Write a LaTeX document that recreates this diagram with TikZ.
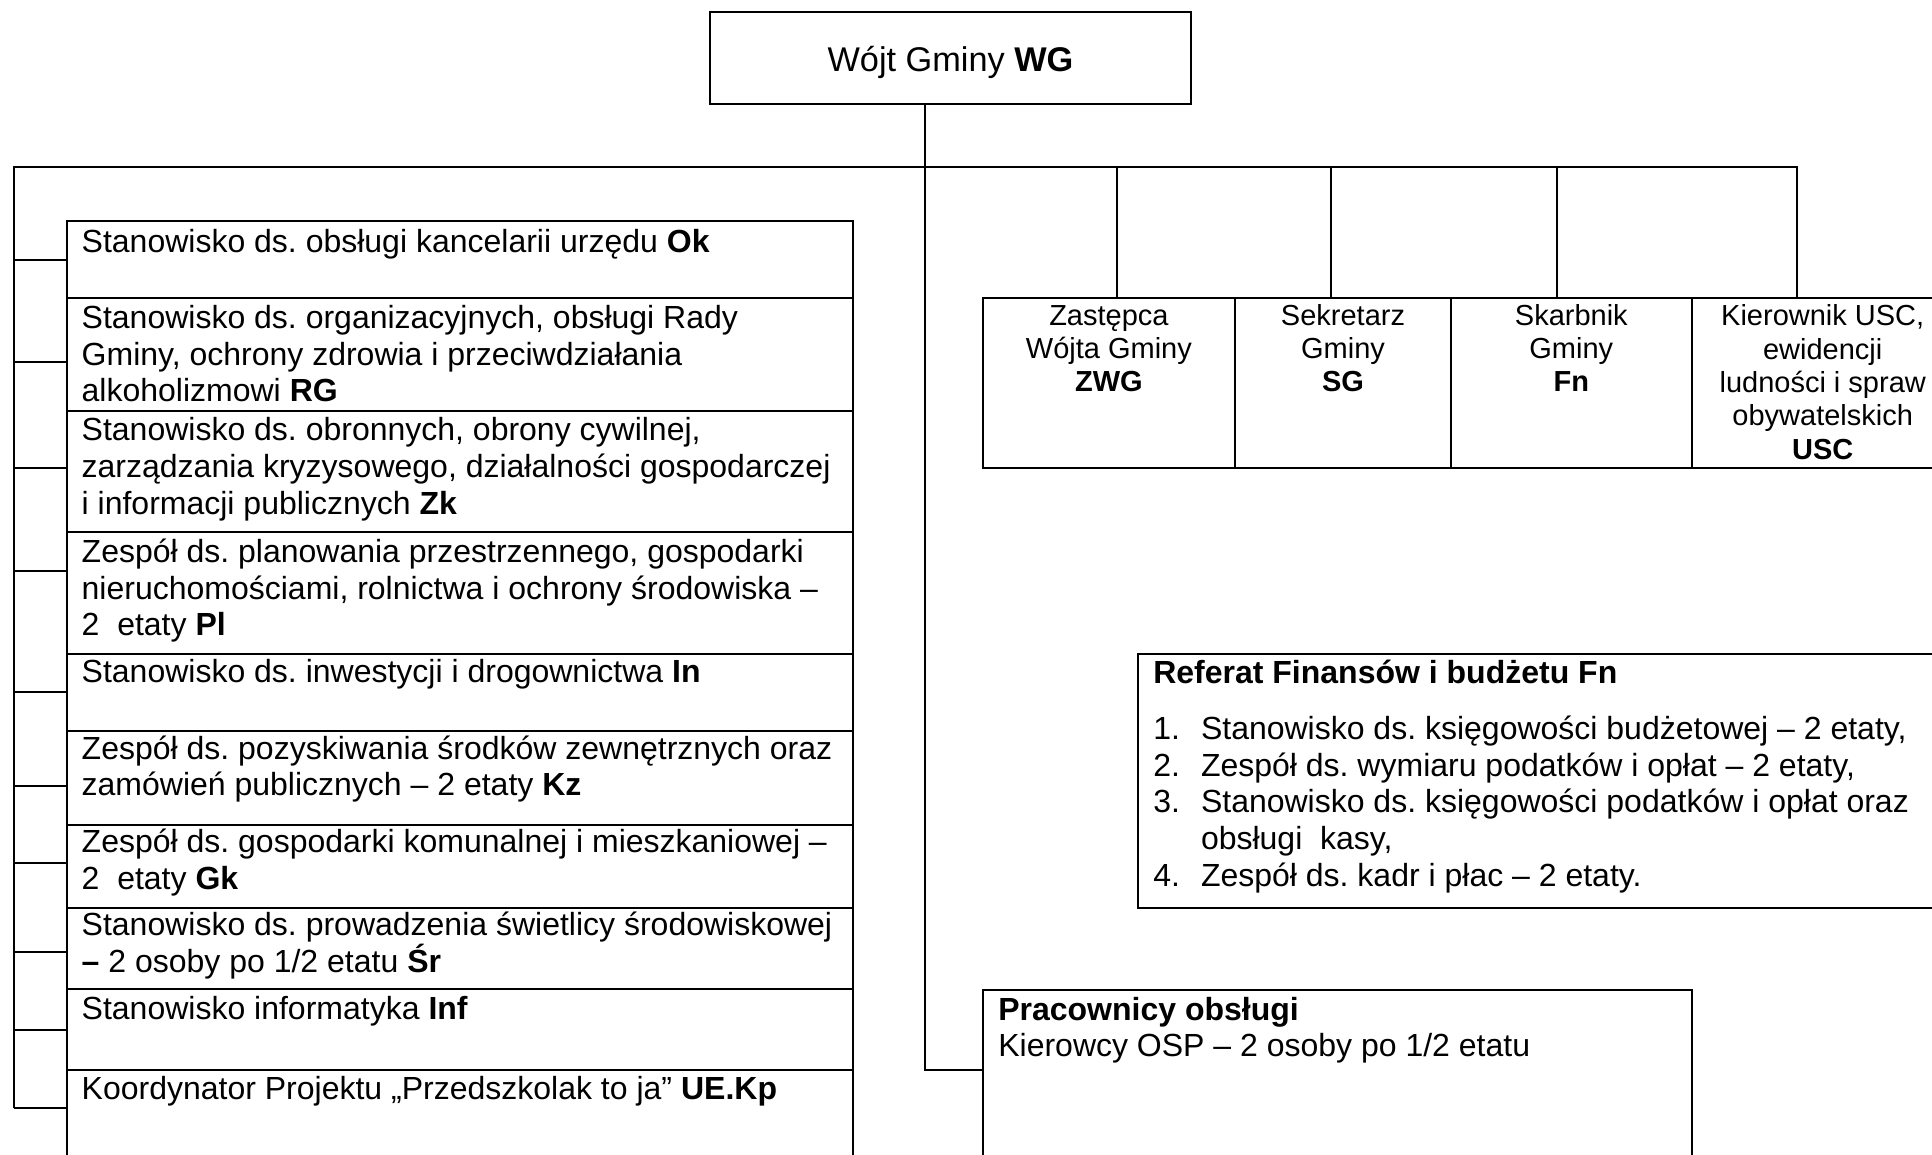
\documentclass[tikz,border=0pt]{standalone}
\usepackage{fontspec}
\setmainfont{Liberation Sans}
\frenchspacing
\newcommand{\topstrut}[1]{\rule{0pt}{#1pt}}
\tikzset{
  box/.style={draw, line width=2pt, inner sep=0pt, outer sep=0pt, anchor=north west, rectangle},
  conn/.style={draw, line width=2pt},
  ltext/.style={anchor=north west, inner sep=0pt, outer sep=0pt, align=left, font=\fontsize{32}{36.7}\selectfont\frenchspacing},
  ctext/.style={anchor=north, inner sep=0pt, outer sep=0pt, align=center, font=\fontsize{29}{33.4}\selectfont\frenchspacing},
}
\begin{document}
\begin{tikzpicture}[x=1pt,y=-1pt]
\useasboundingbox (0,0) rectangle (1932,1154);
\clip (0,0) rectangle (1932,1154);

% top box
\node[box, minimum width=481pt, minimum height=92pt] (wojt) at (710,12) {};
\node[anchor=base, inner sep=0pt, font=\fontsize{34.3}{39}\selectfont] (wojtT) at (950.5,71.7) {Wójt Gminy \textbf{WG}};

% left column boxes
\node[box, minimum width=786.6pt, minimum height=77pt] (b1) at (66.7,220.7) {};
\node[box, minimum width=786.6pt, minimum height=113pt] (b2) at (66.7,297.7) {};
\node[box, minimum width=786.6pt, minimum height=121.6pt] (b3) at (66.7,410.7) {};
\node[box, minimum width=786.6pt, minimum height=121.7pt] (b4) at (66.7,532.3) {};
\node[box, minimum width=786.6pt, minimum height=76.7pt] (b5) at (66.7,654) {};
\node[box, minimum width=786.6pt, minimum height=94.3pt] (b6) at (66.7,730.7) {};
\node[box, minimum width=786.6pt, minimum height=83.3pt] (b7) at (66.7,825) {};
\node[box, minimum width=786.6pt, minimum height=80.7pt] (b8) at (66.7,908.3) {};
\node[box, minimum width=786.6pt, minimum height=81pt] (b9) at (66.7,989) {};
\node[box, minimum width=786.6pt, minimum height=100pt] (b10) at (66.7,1070) {};

\node[ltext] (t1) at (81.7,226.3) {\topstrut{26}Stanowisko ds. obsługi kancelarii urzędu \textbf{Ok}};
\node[ltext] (t2) at (81.7,302.3) {\topstrut{26}Stanowisko ds. organizacyjnych, obsługi Rady\\Gminy, ochrony zdrowia i przeciwdziałania\\alkoholizmowi \textbf{RG}};
\node[ltext] (t3) at (81.7,414.7) {\topstrut{26}Stanowisko ds. obronnych, obrony cywilnej,\\zarządzania kryzysowego, działalności gospodarczej\\i informacji publicznych \textbf{Zk}};
\node[ltext] (t4) at (81.7,536.3) {\topstrut{26}Zespół ds. planowania przestrzennego, gospodarki\\nieruchomościami, rolnictwa i ochrony środowiska –\\2\ \ etaty \textbf{Pl}};
\node[ltext] (t5) at (81.7,656) {\topstrut{26}Stanowisko ds. inwestycji i drogownictwa \textbf{In}};
\node[ltext] (t6) at (81.7,733) {\topstrut{26}Zespół ds. pozyskiwania środków zewnętrznych oraz\\zamówień publicznych – 2 etaty \textbf{Kz}};
\node[ltext] (t7) at (81.7,826.3) {\topstrut{26}Zespół ds. gospodarki komunalnej i mieszkaniowej –\\2\ \ etaty \textbf{Gk}};
\node[ltext] (t8) at (81.7,909.7) {\topstrut{26}Stanowisko ds. prowadzenia świetlicy środowiskowej\\\textbf{–} 2 osoby po 1/2 etatu \textbf{Śr}};
\node[ltext] (t9) at (81.7,993.7) {\topstrut{26}Stanowisko informatyka \textbf{Inf}};
\node[ltext] (t10) at (81.7,1073) {\topstrut{26}Koordynator Projektu „Przedszkolak to ja” \textbf{UE.Kp}};

% right boxes
\node[box, minimum width=252.3pt, minimum height=170pt] (r1) at (982.7,297.7) {};
\node[box, minimum width=216pt, minimum height=170pt] (r2) at (1235,297.7) {};
\node[box, minimum width=241pt, minimum height=170pt] (r3) at (1451,297.7) {};
\node[box, minimum width=261.3pt, minimum height=170pt] (r4) at (1692,297.7) {};

\node[ctext] (rt1) at (1108.9,301) {\topstrut{24}Zastępca\\Wójta Gminy\\\textbf{ZWG}};
\node[ctext] (rt2) at (1343,301) {\topstrut{24}Sekretarz\\Gminy\\\textbf{SG}};
\node[ctext] (rt3) at (1571.3,301) {\topstrut{24}Skarbnik\\Gminy\\\textbf{Fn}};
\node[ctext] (rt4) at (1822.7,301.7) {\topstrut{24}Kierownik USC,\\ewidencji\\ludności i spraw\\obywatelskich\\\textbf{USC}};

% Referat box
\node[box, minimum width=830pt, minimum height=254.3pt] (ref) at (1137.7,653.7) {};
\node[ltext] (refT) at (1153.3,657.3) {\topstrut{26}\textbf{Referat Finansów i budżetu Fn}};
\node[ltext] (n1) at (1153.3,713.3) {\topstrut{26}1.};
\node[ltext] (n2) at (1153.3,750) {\topstrut{26}2.};
\node[ltext] (n3) at (1153.3,786.7) {\topstrut{26}3.};
\node[ltext] (n4) at (1153.3,860) {\topstrut{26}4.};
\node[ltext] (f1) at (1201,713.3) {\topstrut{26}Stanowisko ds. księgowości budżetowej – 2 etaty,};
\node[ltext] (f2) at (1201,750) {\topstrut{26}Zespół ds. wymiaru podatków i opłat – 2 etaty,};
\node[ltext] (f3) at (1201,786.7) {\topstrut{26}Stanowisko ds. księgowości podatków i opłat oraz\\obsługi\ \ kasy,};
\node[ltext] (f4) at (1201,860) {\topstrut{26}Zespół ds. kadr i płac – 2 etaty.};

% Pracownicy box
\node[box, minimum width=709.3pt, minimum height=190pt] (prac) at (982.7,989.7) {};
\node[ltext, font=\fontsize{32}{35.6}\selectfont\frenchspacing] (pracT) at (998.3,994.7) {\topstrut{26}\textbf{Pracownicy obsługi}\\Kierowcy OSP – 2 osoby po 1/2 etatu};

% connectors
\coordinate (J) at (925,166.7);
\coordinate (BL) at (14,166.7);
\coordinate (BR) at (1797,166.7);
\coordinate (pc) at (925,1070);
\coordinate (d1) at (1116.7,166.7);
\coordinate (d2) at (1331,166.7);
\coordinate (d3) at (1557,166.7);
\coordinate (s1) at (14,260);
\coordinate (s2) at (14,362.3);
\coordinate (s3) at (14,467.7);
\coordinate (s4) at (14,570.7);
\coordinate (s5) at (14,692.3);
\coordinate (s6) at (14,786.3);
\coordinate (s7) at (14,863);
\coordinate (s8) at (14,951.7);
\coordinate (s9) at (14,1029.7);
\coordinate (s10) at (14,1108.3);

\draw[conn] (wojt.south -| J) -- (pc) -- (pc -| prac.west);
\draw[conn] (s10) -- (BL) -- (BR) -- (BR |- r4.north);
\draw[conn] (d1) -- (d1 |- r1.north);
\draw[conn] (d2) -- (d2 |- r2.north);
\draw[conn] (d3) -- (d3 |- r3.north);
\draw[conn] (s1) -- (s1 -| b1.west);
\draw[conn] (s2) -- (s2 -| b2.west);
\draw[conn] (s3) -- (s3 -| b3.west);
\draw[conn] (s4) -- (s4 -| b4.west);
\draw[conn] (s5) -- (s5 -| b5.west);
\draw[conn] (s6) -- (s6 -| b6.west);
\draw[conn] (s7) -- (s7 -| b7.west);
\draw[conn] (s8) -- (s8 -| b8.west);
\draw[conn] (s9) -- (s9 -| b9.west);
\draw[conn] (s10) -- (s10 -| b10.west);
\end{tikzpicture}
\end{document}
